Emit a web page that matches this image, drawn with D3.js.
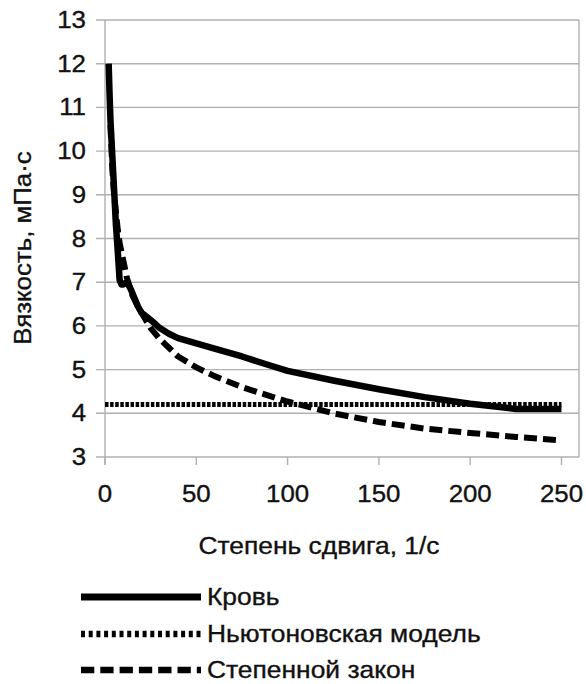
<!DOCTYPE html>
<html><head><meta charset="utf-8">
<script src="https://cdn.jsdelivr.net/npm/d3@7"></script>
<style>body{margin:0;background:#fff}svg{display:block}text{font-family:"Liberation Sans",Arial,sans-serif;fill:#111;stroke:#111;stroke-width:0.35px}</style>
</head><body>
<svg id="c" width="586" height="684"></svg>
<script>
const xTicks = [0, 50, 100, 150, 200, 250];
const yTicks = [3, 4, 5, 6, 7, 8, 9, 10, 11, 12, 13];
const seriesNames = ["Кровь", "Ньютоновская модель", "Степенной закон"];
const bloodX = [2, 2.5, 3, 3.5, 4, 5, 6, 7, 8, 9, 10, 12, 14, 16, 18, 20, 23, 26, 30, 35, 40, 50, 60, 75, 90, 100, 125, 150, 175, 200, 215, 225, 240, 250];
const bloodY = [12.0, 11.3, 10.7, 10.3, 9.9, 9.1, 8.3, 7.7, 7.05, 6.95, 6.95, 7.0, 6.85, 6.65, 6.45, 6.3, 6.2, 6.1, 5.95, 5.82, 5.72, 5.6, 5.48, 5.3, 5.1, 4.97, 4.75, 4.55, 4.37, 4.22, 4.15, 4.1, 4.1, 4.1];
const newtonX = [0, 250];
const newtonY = [4.2, 4.2];
const powerX = [3, 4, 5, 6, 7, 8, 10, 12, 15, 18, 20, 25, 30, 35, 40, 50, 60, 75, 90, 100, 125, 150, 175, 200, 225, 250];
const powerY = [10.6, 9.6, 9.0, 8.6, 8.2, 7.9, 7.5, 7.1, 6.7, 6.45, 6.3, 5.95, 5.7, 5.5, 5.3, 5.05, 4.85, 4.6, 4.4, 4.27, 4.0, 3.8, 3.65, 3.55, 3.46, 3.38];

const svg = d3.select("#c");
const L = 105, R = 579, T = 20, B = 457;
const SX = 1.1;
const x = d3.scaleLinear().domain([0, 259.6]).range([L, R]);
const y = d3.scaleLinear().domain([3, 13]).range([B, T]);
const gridC = "#b0b0b0";

svg.append("g").selectAll("line").data(yTicks).join("line")
  .attr("x1", L - 9).attr("x2", R).attr("y1", d => y(d)).attr("y2", d => y(d))
  .attr("stroke", gridC).attr("stroke-width", 1.4);
svg.append("line").attr("x1", R).attr("x2", R).attr("y1", T).attr("y2", B)
  .attr("stroke", gridC).attr("stroke-width", 1.4);
svg.append("line").attr("x1", L).attr("x2", L).attr("y1", T).attr("y2", B + 8)
  .attr("stroke", gridC).attr("stroke-width", 1.4);
svg.append("g").selectAll("line").data(xTicks).join("line")
  .attr("x1", d => x(d)).attr("x2", d => x(d)).attr("y1", B).attr("y2", B + 8)
  .attr("stroke", gridC).attr("stroke-width", 1.4);

function txt(px, py, s, size, anchor) {
  return svg.append("text")
    .attr("transform", `translate(${px},${py}) scale(${SX},1)`)
    .attr("text-anchor", anchor).attr("font-size", size).text(s);
}
yTicks.forEach(d => txt(86, y(d) + 8, d, 23.5, "end"));
xTicks.forEach(d => txt(x(d), 502, d, 23.5, "middle"));
txt(319, 554, "Степень сдвига, 1/с", 24, "middle");
svg.append("text").attr("transform", `translate(31,248) scale(1,${SX}) rotate(-90)`)
  .attr("text-anchor", "middle").attr("font-size", 23.5).text("Вязкость, мПа·с");

const line = d3.line().x(d => x(d[0])).y(d => y(d[1])).curve(d3.curveLinear);
const styles = [
  {w: 6.5, dash: null, ldash: null},
  {w: 5, dash: "3.5,1.6", ldash: "4,3.7"},
  {w: 6, dash: "13,6", ldash: "13.3,6"}
];
const data = [
  d3.zip(bloodX, bloodY),
  d3.zip(newtonX, newtonY),
  d3.zip(powerX, powerY)
];
[1, 2, 0].forEach(i => {
  svg.append("path").datum(data[i]).attr("d", line)
    .attr("fill", "none").attr("stroke", "#000").attr("stroke-width", styles[i].w)
    .attr("stroke-dasharray", styles[i].dash).attr("stroke-linejoin", "round");
});

const ly = [597, 634, 670];
seriesNames.forEach((n, i) => {
  svg.append("line").attr("x1", 81).attr("x2", 201).attr("y1", ly[i]).attr("y2", ly[i])
    .attr("stroke", "#000").attr("stroke-width", i === 0 ? 7 : 6.5).attr("stroke-dasharray", styles[i].ldash);
  txt(207, ly[i] + 8, n, 24, "start");
});
</script>
</body></html>
